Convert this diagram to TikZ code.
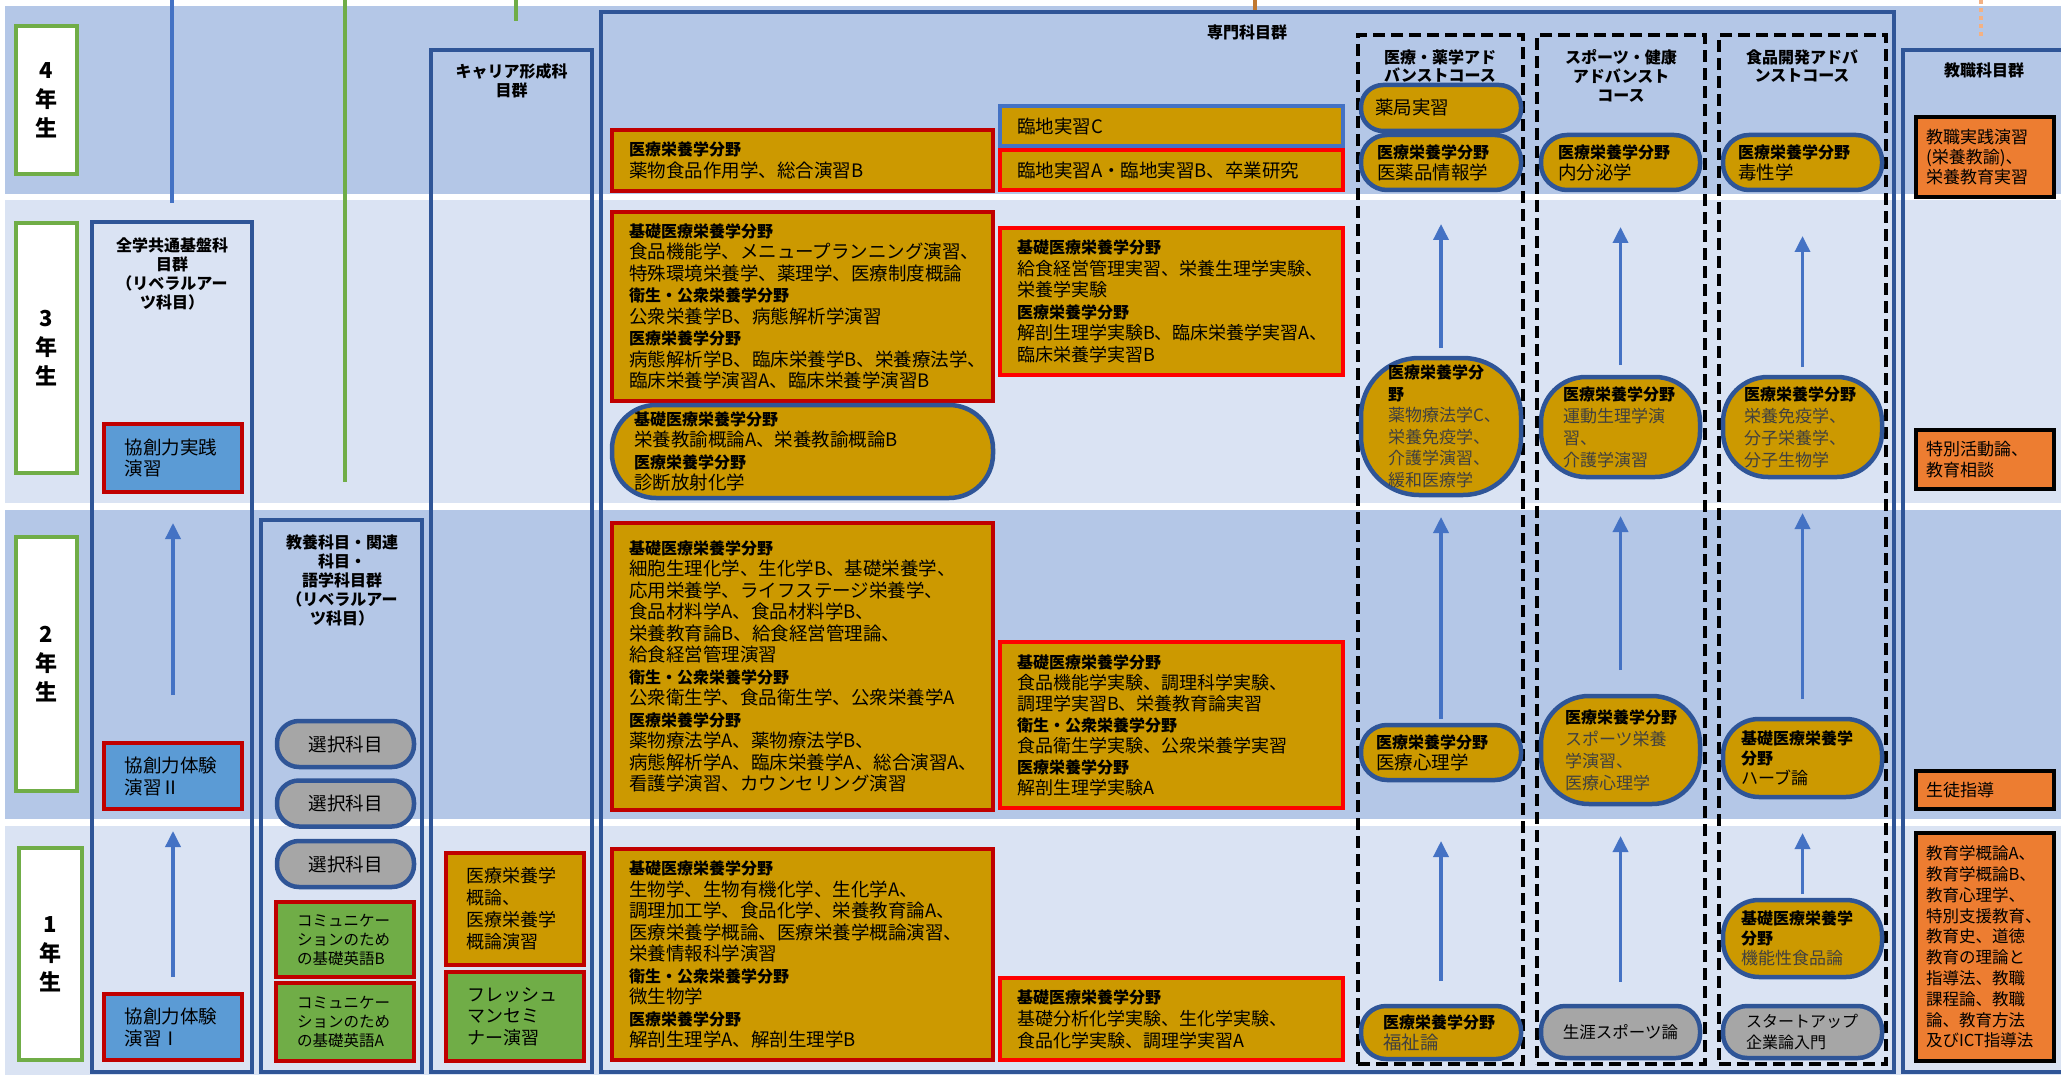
\documentclass[tikz,border=0pt]{standalone}
\usepackage{fontspec}
\setmainfont{Noto Sans CJK JP}
\usetikzlibrary{arrows.meta}
\definecolor{bandD}{HTML}{B4C7E7}
\definecolor{bandL}{HTML}{DAE3F3}
\definecolor{navy}{HTML}{2F5597}
\definecolor{gold}{HTML}{CC9900}
\definecolor{dred}{HTML}{C00000}
\definecolor{bred}{HTML}{FF0000}
\definecolor{sky}{HTML}{5B9BD5}
\definecolor{leaf}{HTML}{70AD47}
\definecolor{graybox}{HTML}{A6A6A6}
\definecolor{orng}{HTML}{ED7D31}
\definecolor{arrblue}{HTML}{4472C4}
\definecolor{txtgray}{HTML}{404040}
\definecolor{tickbrown}{HTML}{C07830}
\definecolor{dotorange}{HTML}{F4B183}
\newcommand\hd[1]{{\fontsize{16}{21.5}\selectfont\bfseries #1}}
\newcommand\gt[1]{{\color{txtgray}#1}}
\tikzset{
  cbox/.style={rectangle, inner sep=0pt, outer sep=0pt, align=left, line width=4pt,
    font=\fontsize{18.5}{21.5}\selectfont},
  goldR/.style={cbox, fill=gold, draw=dred},
  goldB/.style={cbox, fill=gold, draw=bred},
  goldC/.style={cbox, fill=gold, draw=arrblue},
  skyR/.style={cbox, fill=sky, draw=dred, font=\fontsize{18.5}{21}\selectfont},
  leafR/.style={cbox, fill=leaf, draw=dred},
  pill/.style={cbox, fill=gold, draw=navy, line width=4.5pt, rounded corners=24pt},
  gpill/.style={cbox, fill=graybox, draw=navy, line width=4.5pt, rounded corners=22pt},
  orbox/.style={cbox, fill=orng, draw=black, line width=4.5pt, font=\fontsize{17}{20.5}\selectfont},
  colbox/.style={rectangle, draw=navy, line width=4pt, inner sep=0pt, outer sep=0pt},
  dashbox/.style={rectangle, draw=black, line width=4pt, dash pattern=on 12pt off 6pt, inner sep=0pt, outer sep=0pt},
  yearbox/.style={rectangle, fill=white, draw=leaf, line width=4pt, inner sep=0pt, outer sep=0pt,
    align=center, font=\fontsize{22}{29}\selectfont\bfseries},
  ttl/.style={inner sep=0pt, align=center, font=\fontsize{16}{19}\selectfont\bfseries},
  arr/.style={draw=arrblue, line width=3.5pt, -{Triangle[width=15pt,length=16pt]}},
}
\begin{document}
\begin{tikzpicture}[x=1pt,y=-1pt]
\useasboundingbox (0,0) rectangle (2061,1075);
\fill[white] (0,0) rectangle (2061,1075);
% bands
\fill[bandD] (5,6) rectangle (2061,194);
\fill[bandL] (5,200) rectangle (2061,503);
\fill[bandD] (5,510) rectangle (2061,819);
\fill[bandL] (5,826) rectangle (2061,1075);
% top lines
\coordinate (la0) at (172,0);  \coordinate (la1) at (172,203);
\coordinate (lb0) at (345,0);  \coordinate (lb1) at (345,482);
\coordinate (lc0) at (516,0);  \coordinate (lc1) at (516,21);
\coordinate (ld0) at (1255,0); \coordinate (ld1) at (1255,10);
\coordinate (le0) at (1981,0); \coordinate (le1) at (1981,38);
\draw[arrblue, line width=3.5pt] (la0) -- (la1);
\draw[leaf, line width=3.5pt] (lb0) -- (lb1);
\draw[leaf, line width=3.5pt] (lc0) -- (lc1);
\draw[tickbrown, line width=3.5pt] (ld0) -- (ld1);
\draw[dotorange, line width=3.5pt, dash pattern=on 4pt off 4pt] (le0) -- (le1);
% year labels
\node[yearbox, minimum width=61, minimum height=148] (y4) at (46.5,100) {4\\年\\生};
\node[yearbox, minimum width=61, minimum height=250] (y3) at (46.5,348) {3\\年\\生};
\node[yearbox, minimum width=61, minimum height=254] (y2) at (46.5,664) {2\\年\\生};
\node[yearbox, minimum width=63, minimum height=212] (y1) at (50.5,954) {1\\年\\生};
% column boxes
\node[colbox, minimum width=160, minimum height=850] (zenga) at (172,647) {};
\node[colbox, minimum width=161, minimum height=552] (kyoyo) at (341.5,796) {};
\node[colbox, minimum width=161, minimum height=1022] (career) at (511.5,561) {};
\node[colbox, minimum width=1293, minimum height=1060] (senmon) at (1247.5,542) {};
\node[colbox, minimum width=167, minimum height=1022] (kyoshoku) at (1986.5,561) {};
\node[dashbox, minimum width=165, minimum height=1029] (d1) at (1440.5,549.5) {};
\node[dashbox, minimum width=168, minimum height=1029] (d2) at (1621,549.5) {};
\node[dashbox, minimum width=167, minimum height=1029] (d3) at (1802.5,549.5) {};
% titles
\node[ttl] (zengaT) at (172,273.5) {全学共通基盤科\\目群\\（リベラルアー\\ツ科目）};
\node[ttl] (kyoyoT) at (342,580) {教養科目・関連\\科目・\\語学科目群\\（リベラルアー\\ツ科目）};
\node[ttl] (careerT) at (511.5,81) {キャリア形成科\\目群};
\node[ttl] (senmonT) at (1247,32) {専門科目群};
\node[ttl, font=\fontsize{16}{18}\selectfont\bfseries] (d1T) at (1440,66) {医療・薬学アド\\バンストコース};
\node[ttl] (d2T) at (1621,76) {スポーツ・健康\\アドバンスト\\コース};
\node[ttl, font=\fontsize{16}{18}\selectfont\bfseries] (d3T) at (1802,66) {食品開発アドバ\\ンストコース};
\node[ttl] (kyoshokuT) at (1984,70) {教職科目群};
% left column
\node[skyR, minimum width=138, minimum height=68, text width=97] (k3) at (173,458) {協創力実践\\演習};
\node[skyR, minimum width=138, minimum height=66, text width=97, font=\fontsize{18.5}{22}\selectfont] (k2) at (173,776) {協創力体験\\演習Ⅱ};
\node[skyR, minimum width=138, minimum height=66, text width=97, font=\fontsize{18.5}{22}\selectfont] (k1) at (173,1027) {協創力体験\\演習Ⅰ};
\draw[arr, shorten <=17pt, shorten >=22pt] (k1) -- (k2);
\draw[arr, shorten <=48pt, shorten >=31pt] (k2) -- (k3);
% kyoyo column
\node[gpill, minimum width=137, minimum height=46, align=center] (s1) at (345.5,744) {選択科目};
\node[gpill, minimum width=137, minimum height=46, align=center] (s2) at (345.5,803.5) {選択科目};
\node[gpill, minimum width=137, minimum height=46, align=center] (s3) at (345.5,864) {選択科目};
\node[leafR, minimum width=138, minimum height=75, text width=96, font=\fontsize{15.5}{19}\selectfont] (eB) at (345,939.5) {コミュニケー\\ションのため\\の基礎英語B};
\node[leafR, minimum width=138, minimum height=78, text width=96, font=\fontsize{15.5}{19}\selectfont] (eA) at (345,1022) {コミュニケー\\ションのため\\の基礎英語A};
% career column
\node[goldR, minimum width=138, minimum height=112, text width=98, font=\fontsize{18}{22}\selectfont] (gaiyo) at (515,909) {医療栄養学\\概論、\\医療栄養学\\概論演習};
\node[leafR, minimum width=138, minimum height=89, text width=96, font=\fontsize{18}{21.5}\selectfont] (fresh) at (515,1016.5) {フレッシュ\\マンセミ\\ナー演習};
% senmon first column
\node[goldR, minimum width=381, minimum height=61, text width=347] (f4) at (802.5,160.5)
  {\hd{医療栄養学分野}\\薬物食品作用学、総合演習B};
\node[goldR, minimum width=381, minimum height=189, text width=347] (f3) at (802.5,306.5)
  {\hd{基礎医療栄養学分野}\\食品機能学、メニュープランニング演習、\\特殊環境栄養学、薬理学、医療制度概論\\\hd{衛生・公衆栄養学分野}\\公衆栄養学B、病態解析学演習\\\hd{医療栄養学分野}\\病態解析学B、臨床栄養学B、栄養療法学、\\臨床栄養学演習A、臨床栄養学演習B};
\node[pill, rounded corners=44pt, minimum width=381, minimum height=93, text width=337] (f3p) at (802.5,451.5)
  {\hd{基礎医療栄養学分野}\\栄養教諭概論A、栄養教諭概論B\\\hd{医療栄養学分野}\\診断放射化学};
\node[goldR, minimum width=381, minimum height=287, text width=347] (f2) at (802.5,666.5)
  {\hd{基礎医療栄養学分野}\\細胞生理化学、生化学B、基礎栄養学、\\応用栄養学、ライフステージ栄養学、\\食品材料学A、食品材料学B、\\栄養教育論B、給食経営管理論、\\給食経営管理演習\\\hd{衛生・公衆栄養学分野}\\公衆衛生学、食品衛生学、公衆栄養学A\\\hd{医療栄養学分野}\\薬物療法学A、薬物療法学B、\\病態解析学A、臨床栄養学A、総合演習A、\\看護学演習、カウンセリング演習};
\node[goldR, minimum width=381, minimum height=211, text width=347] (f1) at (802.5,954.5)
  {\hd{基礎医療栄養学分野}\\生物学、生物有機化学、生化学A、\\調理加工学、食品化学、栄養教育論A、\\医療栄養学概論、医療栄養学概論演習、\\栄養情報科学演習\\\hd{衛生・公衆栄養学分野}\\微生物学\\\hd{医療栄養学分野}\\解剖生理学A、解剖生理学B};
% senmon second column
\node[goldC, minimum width=343, minimum height=40, text width=309] (c4c) at (1171.5,126) {臨地実習C};
\node[goldB, minimum width=343, minimum height=40, text width=309] (c4ab) at (1171.5,170) {臨地実習A・臨地実習B、卒業研究};
\node[goldB, minimum width=343, minimum height=147, text width=309, font=\fontsize{18}{21.5}\selectfont] (c3) at (1171.5,301.5)
  {\hd{基礎医療栄養学分野}\\給食経営管理実習、栄養生理学実験、\\栄養学実験\\\hd{医療栄養学分野}\\解剖生理学実験B、臨床栄養学実習A、\\臨床栄養学実習B};
\node[goldB, minimum width=343, minimum height=166, text width=309, font=\fontsize{18}{21}\selectfont] (c2) at (1171.5,725)
  {\hd{基礎医療栄養学分野}\\食品機能学実験、調理科学実験、\\調理学実習B、栄養教育論実習\\\hd{衛生・公衆栄養学分野}\\食品衛生学実験、公衆栄養学実習\\\hd{医療栄養学分野}\\解剖生理学実験A};
\node[goldB, minimum width=343, minimum height=82, text width=309, font=\fontsize{18}{22}\selectfont] (c1) at (1171.5,1019)
  {\hd{基礎医療栄養学分野}\\基礎分析化学実験、生化学実験、\\食品化学実験、調理学実習A};
% course 1
\node[pill, rounded corners=22pt, minimum width=160, minimum height=46, text width=132] (p4a) at (1441,108) {薬局実習};
\node[pill, rounded corners=26pt, minimum width=160, minimum height=55, text width=128, font=\fontsize{18.5}{21}\selectfont] (p4b) at (1441,162.5) {\hd{医療栄養学分野}\\医薬品情報学};
\node[pill, rounded corners=58pt, minimum width=160, minimum height=137, text width=106, font=\fontsize{17}{21.5}\selectfont] (p3) at (1441,426.5)
  {\hd{医療栄養学分}\\\hd{野}\\\gt{薬物療法学C、}\\\gt{栄養免疫学、}\\\gt{介護学演習、}\\\gt{緩和医療学}};
\node[pill, rounded corners=26pt, minimum width=160, minimum height=55, text width=130, font=\fontsize{18.5}{21}\selectfont] (p2) at (1441,752.5) {\hd{医療栄養学分野}\\医療心理学};
\node[pill, rounded corners=25pt, minimum width=160, minimum height=53, text width=116, font=\fontsize{18.5}{21}\selectfont] (p1) at (1441,1032.5) {\hd{医療栄養学分野}\\\gt{福祉論}};
\draw[arr, shorten <=25pt, shorten >=61pt] (p1) -- (p2);
\draw[arr, shorten <=6pt, shorten >=22pt] (p2) -- (p3);
\draw[arr, shorten <=10pt, shorten >=34pt] (p3) -- (p4b);
% course 2
\node[pill, rounded corners=26pt, minimum width=159, minimum height=55, text width=125, font=\fontsize{18.5}{21}\selectfont] (q4) at (1620.5,162.5) {\hd{医療栄養学分野}\\内分泌学};
\node[pill, rounded corners=45pt, minimum width=159, minimum height=100, text width=115, font=\fontsize{17}{22}\selectfont] (q3) at (1620.5,427)
  {\hd{医療栄養学分野}\\\gt{運動生理学演}\\\gt{習、}\\\gt{介護学演習}};
\node[pill, rounded corners=48pt, minimum width=159, minimum height=108, text width=111, font=\fontsize{17}{22}\selectfont] (q2) at (1620.5,750)
  {\hd{医療栄養学分野}\\\gt{スポーツ栄養}\\\gt{学演習、}\\\gt{医療心理学}};
\node[gpill, rounded corners=24pt, minimum width=159, minimum height=52, align=center, font=\fontsize{16.5}{20}\selectfont] (q1) at (1620.5,1032) {生涯スポーツ論};
\draw[arr, shorten <=24pt, shorten >=32pt] (q1) -- (q2);
\draw[arr, shorten <=26pt, shorten >=39pt] (q2) -- (q3);
\draw[arr, shorten <=12pt, shorten >=37pt] (q3) -- (q4);
% course 3
\node[pill, rounded corners=26pt, minimum width=159, minimum height=55, text width=129, font=\fontsize{18.5}{21}\selectfont] (r4) at (1802.5,162.5) {\hd{医療栄養学分野}\\毒性学};
\node[pill, rounded corners=45pt, minimum width=159, minimum height=100, text width=117, font=\fontsize{17}{22}\selectfont] (r3) at (1802.5,427)
  {\hd{医療栄養学分野}\\\gt{栄養免疫学、}\\\gt{分子栄養学、}\\\gt{分子生物学}};
\node[pill, rounded corners=36pt, minimum width=159, minimum height=78, text width=123, font=\fontsize{17}{20}\selectfont] (r2) at (1802.5,758)
  {\hd{基礎医療栄養学}\\\hd{分野}\\ハーブ論};
\node[pill, rounded corners=36pt, minimum width=159, minimum height=77, text width=123, font=\fontsize{17}{20}\selectfont] (r1a) at (1802.5,938.5)
  {\hd{基礎医療栄養学}\\\hd{分野}\\\gt{機能性食品論}};
\node[gpill, rounded corners=24pt, minimum width=159, minimum height=52, text width=113, font=\fontsize{16}{21}\selectfont] (r1b) at (1802.5,1032) {スタートアップ\\企業論入門};
\draw[arr, shorten <=6pt, shorten >=36pt] (r1a) -- (r2);
\draw[arr, shorten <=20pt, shorten >=36pt] (r2) -- (r3);
\draw[arr, shorten <=10pt, shorten >=46pt] (r3) -- (r4);
% kyoshoku column
\node[orbox, minimum width=138, minimum height=80, text width=118, font=\fontsize{17}{20}\selectfont] (o1) at (1985,157) {教職実践演習\\(栄養教諭)、\\栄養教育実習};
\node[orbox, minimum width=138, minimum height=59, text width=118, font=\fontsize{17}{21}\selectfont] (o2) at (1985,459.5) {特別活動論、\\教育相談};
\node[orbox, minimum width=138, minimum height=38, text width=118] (o3) at (1985,790) {生徒指導};
\node[orbox, minimum width=138, minimum height=228, text width=118, font=\fontsize{16.5}{20.8}\selectfont] (o4) at (1985,947)
  {教育学概論A、\\教育学概論B、\\教育心理学、\\特別支援教育、\\教育史、道徳\\教育の理論と\\指導法、教職\\課程論、教職\\論、教育方法\\及びICT指導法};
\end{tikzpicture}
\end{document}
